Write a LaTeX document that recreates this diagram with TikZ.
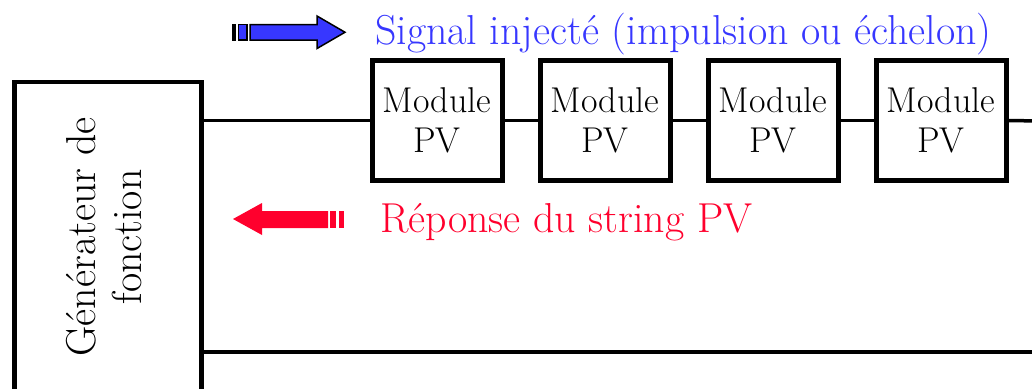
\documentclass[tikz,border=0pt]{standalone}
\usepackage{fontspec}
\definecolor{sigblue}{RGB}{55,55,255}
\definecolor{resred}{RGB}{255,0,45}
\tikzset{
  modbox/.style={draw=black, line width=5bp, minimum width=130bp, minimum height=120bp,
    inner sep=0pt, align=center, font=\fontsize{36}{40}\selectfont},
  genbox/.style={draw=black, line width=4.5bp, minimum width=187bp, minimum height=318bp, inner sep=0pt},
  wire/.style={line width=3.5bp, black},
  lbl/.style={anchor=base west, inner sep=0pt, font=\fontsize{42}{46}\selectfont}
}
\begin{document}
\begin{tikzpicture}[x=1bp, y=-1bp]
\clip (0,0) rectangle (1032,388);
\fill[white] (0,0) rectangle (1032,388);
% generator
\node[genbox] (gen) at (108,241) {};
\node[rotate=90, align=center, inner sep=0pt, font=\fontsize{42}{46}\selectfont] (gentext) at (104,237) {Générateur de\\fonction};
% modules
\node[modbox] (m1) at (437,120.5) {Module\\PV};
\node[modbox] (m2) at (605,120.5) {Module\\PV};
\node[modbox] (m3) at (773,120.5) {Module\\PV};
\node[modbox] (m4) at (941,120.5) {Module\\PV};
\coordinate (topend) at (1040,121);
\coordinate (botend) at (1040,352);
% wires
\draw[wire] (m1.west) -- (m1.west -| gen.east);
\draw[wire] (m1.east) -- (m2.west);
\draw[wire] (m2.east) -- (m3.west);
\draw[wire] (m3.east) -- (m4.west);
\draw[wire] (m4.east) -- (topend);
\draw[wire] (botend -| gen.east) -- (botend);
% blue arrow
\fill[black] (232,24) rectangle (235.5,40.5);
\filldraw[fill=sigblue, draw=black, line width=1.5bp] (238.5,24.5) rectangle (247,40);
\filldraw[fill=sigblue, draw=black, line width=1.5bp, line join=miter]
  (250,24.5) -- (317,24.5) -- (317,16) -- (345,32.25) -- (317,48.5) -- (317,40) -- (250,40) -- cycle;
% red arrow
\fill[resred] (233,219) -- (262,203) -- (262,211) -- (328,211) -- (328,228) -- (262,228) -- (262,235) -- cycle;
\fill[resred] (330,211) rectangle (336,228);
\fill[resred] (339,211) rectangle (344,228);
% labels
\node[lbl, text=sigblue] (siglbl) at (375,44) {Signal injecté (impulsion ou échelon)};
\node[lbl, text=resred] (reslbl) at (380,232) {Réponse du string PV};
\end{tikzpicture}
\end{document}
